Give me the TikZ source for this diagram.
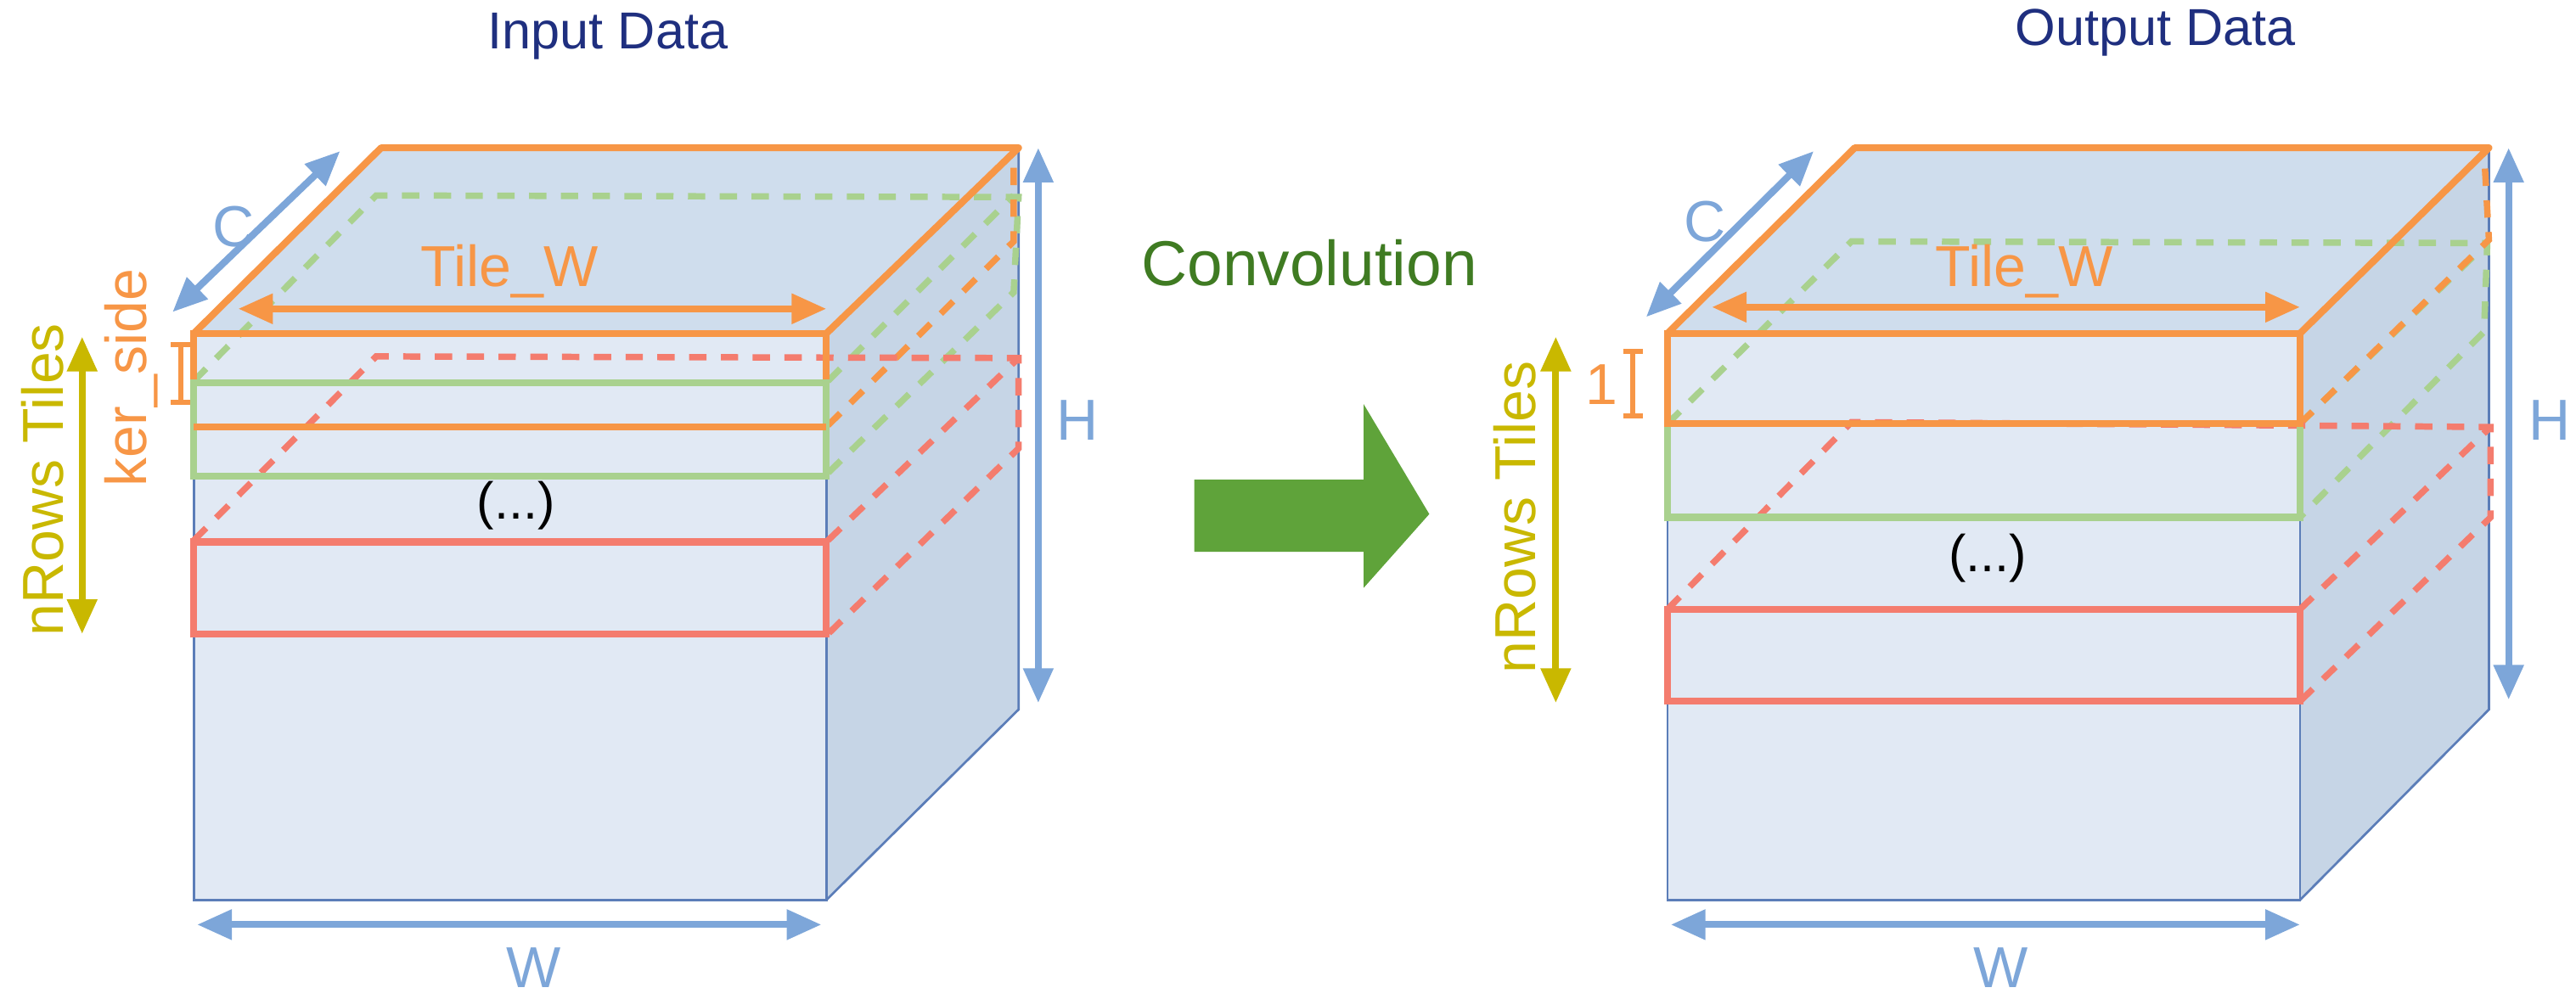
\documentclass[tikz,border=0pt]{standalone}
\usepackage{fontspec}
\setmainfont{Liberation Sans}
\usetikzlibrary{arrows.meta}
\definecolor{cor}{HTML}{F79646}
\definecolor{cgr}{HTML}{A9D18E}
\definecolor{cre}{HTML}{F47C6E}
\definecolor{cbl}{HTML}{7DA6D9}
\definecolor{cedge}{HTML}{5B7DB8}
\definecolor{cfront}{HTML}{E1E9F4}
\definecolor{ctop}{HTML}{CFDDED}
\definecolor{cside}{HTML}{C6D5E6}
\definecolor{cnavy}{HTML}{1F2F7F}
\definecolor{cyel}{HTML}{C9B800}
\definecolor{cconv}{HTML}{3F7B22}
\definecolor{carr}{HTML}{5FA33A}
\begin{document}
\begin{tikzpicture}[x=0.01cm,y=-0.01cm,
  face/.style={draw=cedge,line width=0.4pt},
  solid tile/.style={line width=1.2pt},
  dtile/.style={line width=1.1pt,dash pattern=on 3pt off 2.5pt},
  dim/.style={cbl,line width=1.2pt,{Triangle[length=6pt,width=5pt]}-{Triangle[length=6pt,width=5pt]}},
  dimo/.style={cor,line width=1.2pt,{Triangle[length=6pt,width=5pt]}-{Triangle[length=6pt,width=5pt]}},
  dimy/.style={cyel,line width=1.2pt,{Triangle[length=6pt,width=5pt]}-{Triangle[length=6pt,width=5pt]}},
  lbl/.style={font=\fontsize{10}{12}\selectfont},
  ttl/.style={font=\fontsize{9}{11}\selectfont,text=cnavy}]
\useasboundingbox (0,0) rectangle (1568,608);
% ===== LEFT CUBE =====
\fill[cfront] (118,203) rectangle (503,548);
\fill[ctop] (118,203) -- (232,90) -- (620,90) -- (503,203) -- cycle;
\fill[cside] (503,203) -- (620,90) -- (620,432) -- (503,548) -- cycle;
\draw[face] (118,203) rectangle (503,548);
\draw[face] (503,548) -- (620,432) -- (620,90);
% dashed back lines
\draw[dtile,cgr] (118,232) -- (229,119) -- (620,120) -- (617,178) -- (504,288);
\draw[dtile,cgr] (504,232) -- (617,119);
\draw[dtile,cor] (504,259) -- (617,147) -- (617,93);
\draw[dtile,cre] (118,329) -- (229,217) -- (620,218) -- (620,273) -- (504,386);
\draw[dtile,cre] (504,329) -- (620,218);
% tiles
\draw[solid tile,cor] (118,203) rectangle (503,260);
\draw[solid tile,cgr] (118,233) rectangle (503,290);
\draw[solid tile,cor] (118,260) -- (503,260);
\draw[solid tile,cre] (118,330) rectangle (503,386);
\draw[solid tile,cor,line join=round] (118,203) -- (232,90) -- (620,90) -- (503,203);
\node[font=\fontsize{9}{11}\selectfont] (dotsL) at (314,308) {(...)};
% dimensions
\coordinate (cLa) at (105,190); \coordinate (cLb) at (207,92);
\draw[dim] (cLa) -- (cLb);
\node[lbl,text=cbl] (labCL) at (142,138) {C};
\coordinate (twLa) at (145,188); \coordinate (twLb) at (503,188);
\draw[dimo] (twLa) -- (twLb);
\node[lbl,text=cor] (labTWL) at (310,165) {Tile\_W};
\node[lbl,text=cor,rotate=90] (ker) at (80,230) {ker\_side};
\coordinate (kA) at (110,210); \coordinate (kB) at (110,245);
\draw[cor,line width=0.9pt] (kA) -- (kB) (104,210) -- (116,210) (104,245) -- (116,245);
\node[lbl,text=cyel,rotate=90] (nrL) at (26,292) {nRows Tiles};
\coordinate (nLa) at (50,205); \coordinate (nLb) at (50,386);
\draw[dimy] (nLa) -- (nLb);
\coordinate (hLa) at (632,90); \coordinate (hLb) at (632,428);
\draw[dim] (hLa) -- (hLb);
\node[lbl,text=cbl] (labHL) at (656,256) {H};
\coordinate (wLa) at (120,563); \coordinate (wLb) at (500,563);
\draw[dim] (wLa) -- (wLb);
\node[lbl,text=cbl] (labWL) at (325,589) {W};
\node[ttl] (inp) at (370,22) {Input Data};
% ===== middle =====
\node[font=\fontsize{11}{13}\selectfont,text=cconv] (conv) at (797,160) {Convolution};
\fill[carr] (727,292) -- (830,292) -- (830,246) -- (870,313) -- (830,358) -- (830,336) -- (727,336) -- cycle;
% ===== RIGHT CUBE =====
\fill[cfront] (1015,203) rectangle (1400,548);
\fill[ctop] (1015,203) -- (1129,90) -- (1515,90) -- (1400,203) -- cycle;
\fill[cside] (1400,203) -- (1515,90) -- (1515,432) -- (1400,548) -- cycle;
\draw[face] (1015,203) rectangle (1400,548);
\draw[face] (1400,548) -- (1515,432) -- (1515,90);
\draw[dtile,cgr] (1015,258) -- (1127,147) -- (1514,148) -- (1512,202) -- (1400,315);
\draw[dtile,cgr] (1400,258) -- (1514,148);
\draw[dtile,cor] (1400,258) -- (1515,146) -- (1512,92);
\draw[dtile,cre] (1015,371) -- (1127,257) -- (1516,260) -- (1516,315) -- (1400,427);
\draw[dtile,cre] (1400,371) -- (1516,260);
\draw[solid tile,cgr] (1015,258) rectangle (1400,315);
\draw[solid tile,cor] (1015,203) rectangle (1400,258);
\draw[solid tile,cre] (1015,371) rectangle (1400,427);
\draw[solid tile,cor,line join=round] (1015,203) -- (1129,90) -- (1515,90) -- (1400,203);
\node[font=\fontsize{9}{11}\selectfont] (dotsR) at (1210,340) {(...)};
\coordinate (cRa) at (1002,193); \coordinate (cRb) at (1104,92);
\draw[dim] (cRa) -- (cRb);
\node[lbl,text=cbl] (labCR) at (1038,135) {C};
\coordinate (twRa) at (1042,187); \coordinate (twRb) at (1400,187);
\draw[dimo] (twRa) -- (twRb);
\node[lbl,text=cor] (labTWR) at (1232,165) {Tile\_W};
\node[lbl,text=cor] (one) at (975,234) {1};
\coordinate (oA) at (994,214); \coordinate (oB) at (994,253);
\draw[cor,line width=0.9pt] (oA) -- (oB) (988,214) -- (1000,214) (988,253) -- (1000,253);
\node[lbl,text=cyel,rotate=90] (nrR) at (922,315) {nRows Tiles};
\coordinate (nRa) at (947,205); \coordinate (nRb) at (947,428);
\draw[dimy] (nRa) -- (nRb);
\coordinate (hRa) at (1527,90); \coordinate (hRb) at (1527,426);
\draw[dim] (hRa) -- (hRb);
\node[lbl,text=cbl] (labHR) at (1552,256) {H};
\coordinate (wRa) at (1017,563); \coordinate (wRb) at (1400,563);
\draw[dim] (wRa) -- (wRb);
\node[lbl,text=cbl] (labWR) at (1218,589) {W};
\node[ttl] (outp) at (1312,20) {Output Data};
\end{tikzpicture}
\end{document}
